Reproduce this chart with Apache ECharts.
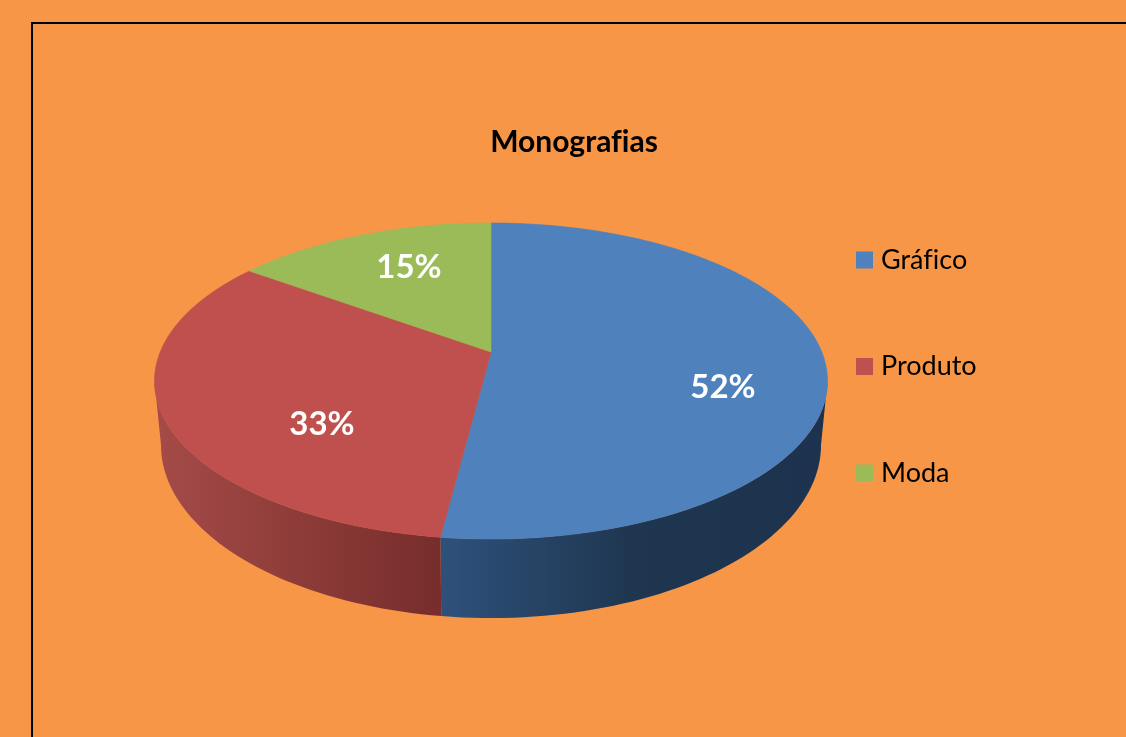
<!DOCTYPE html>
<html>
<head>
<meta charset="utf-8">
<style>html,body{margin:0;padding:0;background:#F89647}#c{width:1126px;height:737px}</style>
<script src="https://cdn.jsdelivr.net/npm/echarts@6/dist/echarts.min.js"></script>
</head>
<body>
<div id="c"></div>
<script>
const chartTitle = 'Monografias';
const categories = ['Gráfico', 'Produto', 'Moda'];
const shares = [52, 33, 15];

const palette = ['#4F81BD', '#C0504D', '#9BBB59'];
const sideStops = [
  [[0, '#2E517B'], [0.5, '#1F3650'], [1, '#1C324E']],
  [[0, '#A54B48'], [1, '#762D2B']],
  [[0, '#6E8540'], [1, '#5A6D34']]
];
const labelCentres = [[723, 387], [322, 424], [409, 267]];

/* Keep "fi" as two letters in canvas text, as in the reference */
const origGetContext = HTMLCanvasElement.prototype.getContext;
HTMLCanvasElement.prototype.getContext = function () {
  const ctx = origGetContext.apply(this, arguments);
  if (ctx && 'textRendering' in ctx) ctx.textRendering = 'optimizeSpeed';
  return ctx;
};

/* Perspective projection of the disc: top rim and bottom rim */
const K = 0.1835;
const topRim = { cx: 491, cy: 352, a: 330.8, b: 152.7 };
const botRim = { cx: 491, cy: 413.3, a: 324.4, b: 167.2 };
const project = (rim, deg) => {
  const t = deg * Math.PI / 180, u = Math.sin(t), v = -Math.cos(t);
  const d = 1 - K * v;
  return [rim.cx + rim.a * u / d, rim.cy + rim.b * v / d];
};
const arc = (rim, from, to) => {
  const n = Math.max(2, Math.ceil(Math.abs(to - from) / 1.5)), pts = [];
  for (let i = 0; i <= n; i++) pts.push(project(rim, from + (to - from) * i / n));
  return pts;
};
const total = shares.reduce((s, v) => s + v, 0);
const silhouette = [180 - Math.acos(K) * 180 / Math.PI, 180 + Math.acos(K) * 180 / Math.PI];

function makeRender(index) {
  return function (params, api) {
    const value = api.value(0);
    let before = 0;
    for (let i = 0; i < index; i++) before += shares[i];
    const from = before / total * 360, to = (before + value) / total * 360;
    const children = [];
    const lo = Math.max(from, silhouette[0]), hi = Math.min(to, silhouette[1]);
    if (hi > lo) {
      children.push({
        type: 'polygon',
        shape: { points: arc(topRim, lo, hi).concat(arc(botRim, hi, lo)) },
        style: {
          fill: new echarts.graphic.LinearGradient(0, 0, 1, 0,
            sideStops[index].map(s => ({ offset: s[0], color: s[1] })))
        }
      });
    }
    children.push({
      type: 'polygon',
      shape: { points: [[topRim.cx, topRim.cy]].concat(arc(topRim, from, to)) },
      style: { fill: palette[index], stroke: palette[index], lineWidth: 0.6 }
    });
    children.push({
      type: 'text',
      z2: 10,
      style: {
        text: value + '%',
        x: labelCentres[index][0], y: labelCentres[index][1],
        fill: '#FFFFFF', font: 'bold 33px Lato',
        textAlign: 'center', textVerticalAlign: 'middle'
      }
    });
    return { type: 'group', children };
  };
}

const chart = echarts.init(document.getElementById('c'), null, { renderer: 'canvas' });
chart.setOption({
  animation: false,
  backgroundColor: '#F89647',
  title: {
    text: chartTitle,
    left: 569, top: 122, textAlign: 'center',
    textStyle: { fontFamily: 'Lato', fontWeight: 'bold', fontSize: 30, color: '#000000' }
  },
  legend: {
    orient: 'vertical',
    left: 856, top: 245, padding: 0,
    itemWidth: 17, itemHeight: 17, itemGap: 76.5,
    icon: 'rect',
    selectedMode: false,
    data: categories,
    textStyle: { fontFamily: 'Lato', fontSize: 27, color: '#000000', lineHeight: 30, padding: [0, 0, 0, 3] }
  },
  graphic: [{
    type: 'polyline',
    silent: true,
    shape: { points: [[32, 737], [32, 23], [1126, 23]] },
    style: { stroke: '#000000', lineWidth: 2, fill: null }
  }],
  series: categories.map((name, i) => ({
    type: 'custom',
    name,
    coordinateSystem: 'none',
    renderItem: makeRender(i),
    itemStyle: { color: palette[i] },
    data: [[shares[i]]],
    silent: true
  }))
});
</script>
</body>
</html>
